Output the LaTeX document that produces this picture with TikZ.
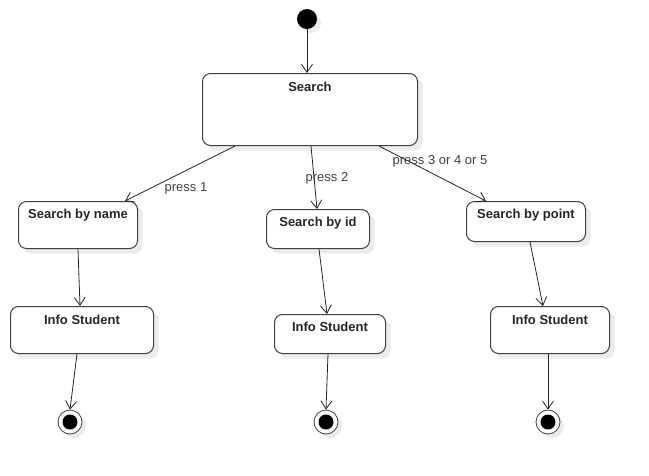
\documentclass[tikz,border=0pt]{standalone}
\usepackage{fontspec}
\setmainfont{Liberation Sans}
\usetikzlibrary{arrows.meta,calc,shadows}
\begin{document}
\begin{tikzpicture}[x=1pt,y=-1pt,
  statebox/.style={draw=black!75, line width=1pt, rounded corners=8pt, fill=white,
    inner sep=0pt, anchor=north west,
    drop shadow={shadow xshift=5pt, shadow yshift=-5pt, fill=black!8, opacity=1}},
  title/.style={font=\bfseries\fontsize{13}{15}\selectfont, text=black!85, inner sep=0pt},
  guard/.style={font=\fontsize{13}{15}\selectfont, text=black!75, inner sep=0pt},
  flow/.style={draw=black!85, line width=0.8pt, -{Straight Barb[length=8pt,width=11pt]}},
  initial/.style={circle, fill=black, minimum size=20pt, inner sep=0pt,
    drop shadow={shadow xshift=4pt, shadow yshift=-4pt, fill=black!8, opacity=1}},
  final/.style={circle, draw=black!75, line width=0.8pt, fill=white, minimum size=24pt, inner sep=0pt,
    path picture={\fill[black] (path picture bounding box.center) circle (7.5pt);},
    drop shadow={shadow xshift=4pt, shadow yshift=-4pt, fill=black!8, opacity=1}},
]
\useasboundingbox (0,0) rectangle (649,475);

% start
\node[initial] (start) at (307,19) {};

% search state
\node[statebox, minimum width=215pt, minimum height=72pt] (search) at (202,73) {};
\node[title] (searchT) at ($(search.north)+(0,14)$) {Search};

% search variants
\node[statebox, minimum width=119pt, minimum height=47pt] (byname) at (18,201) {};
\node[title] (bynameT) at ($(byname.north)+(0,14)$) {Search by name};
\node[statebox, minimum width=103pt, minimum height=39pt] (byid) at (266,209) {};
\node[title] (byidT) at ($(byid.north)+(0,14)$) {Search by id};
\node[statebox, minimum width=119pt, minimum height=40pt] (bypoint) at (466,201) {};
\node[title] (bypointT) at ($(bypoint.north)+(0,14)$) {Search by point};

% result states
\node[statebox, minimum width=143pt, minimum height=47pt] (info1) at (10,306) {};
\node[title] (info1T) at ($(info1.north)+(0,14)$) {Info Student};
\node[statebox, minimum width=111pt, minimum height=39pt] (info2) at (274,314) {};
\node[title] (info2T) at ($(info2.north)+(0,13)$) {Info Student};
\node[statebox, minimum width=119pt, minimum height=47pt] (info3) at (490,306) {};
\node[title] (info3T) at ($(info3.north)+(0,14)$) {Info Student};

% end states
\node[final] (end1) at (70,422) {};
\node[final] (end2) at (326,422) {};
\node[final] (end3) at (548,422) {};

% transitions
\draw[flow] (start.south) -- (search.north -| start);
\draw[flow] ($(search.south west)+(33,0)$) -- ($(byname.north west)+(107,0)$);
\draw[flow] ($(search.south west)+(109,0)$) -- ($(byid.north west)+(51,0)$);
\draw[flow] ($(search.south west)+(177,0)$) -- ($(bypoint.north west)+(20,0)$);
\draw[flow] ($(byname.south west)+(60,0)$) -- ($(info1.north west)+(70,0)$);
\draw[flow] ($(byid.south west)+(53,0)$) -- ($(info2.north west)+(53,0)$);
\draw[flow] ($(bypoint.south west)+(64,0)$) -- ($(info3.north west)+(53,0)$);
\draw[flow] ($(info1.south west)+(67,0)$) -- (end1.north);
\draw[flow] ($(info2.south west)+(54,0)$) -- (end2.north);
\draw[flow] ($(info3.south west)+(58,0)$) -- (end3.north);

% guards
\node[guard] (g1) at (186,188) {press 1};
\node[guard] (g2) at (327,178) {press 2};
\node[guard] (g3) at (440,161) {press 3 or 4 or 5};
\end{tikzpicture}
\end{document}
